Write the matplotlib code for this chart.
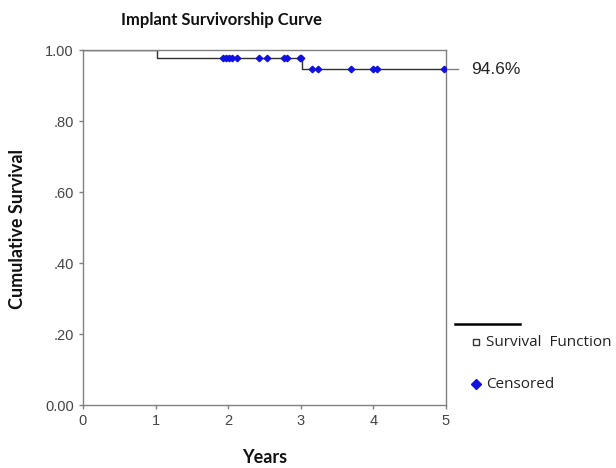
import matplotlib
matplotlib.use("Agg")
import matplotlib.pyplot as plt
from matplotlib.lines import Line2D
import numpy as np

# ── Data ──────────────────────────────────────────────────────────────────
step_times = [0.0, 1.02, 3.025, 5.0]
step_surv = [1.0, 0.978, 0.946, 0.946]

censored_upper = [1.93, 1.97, 2.01, 2.05, 2.12, 2.42, 2.54, 2.77, 2.81, 2.99, 3.01]
censored_lower = [3.16, 3.24, 3.70, 3.99, 4.05, 4.97]

x_ticks = [0, 1, 2, 3, 4, 5]
y_ticks = [0.0, 0.2, 0.4, 0.6, 0.8, 1.0]
y_tick_labels = ["0.00", ".20", ".40", ".60", ".80", "1.00"]

final_label = "94.6%"

plt.rcParams["font.family"] = ["Liberation Sans", "DejaVu Sans"]

fig = plt.figure(figsize=(6.16, 4.68), dpi=100)
ax = fig.add_axes([0.1347, 0.1346, 0.589, 0.7585])

frame_col = "#808080"
ax.step(step_times, step_surv, where="post", color="#303030", linewidth=1.0, zorder=2)

cens_x = censored_upper + censored_lower
cens_y = [step_surv[1]] * len(censored_upper) + [step_surv[2]] * len(censored_lower)
ax.plot(cens_x, cens_y, linestyle="none", marker="D", markersize=3.3,
        color="#1010e0", zorder=3)

# tail line out to the label
ax.plot([5.0, 5.17], [step_surv[-1], step_surv[-1]], color=frame_col,
        linewidth=1.0, clip_on=False)
ax.text(5.35, step_surv[-1], final_label, fontsize=12.5, va="center", ha="left",
        color="#222222")

ax.set_xlim(0, 5)
ax.set_ylim(0, 1)
ax.set_xticks(x_ticks)
ax.set_yticks(y_ticks)
ax.set_yticklabels(y_tick_labels)
for sp in ax.spines.values():
    sp.set_color(frame_col)
    sp.set_linewidth(1.0)
ax.tick_params(direction="out", length=3, width=1, colors=frame_col,
               labelcolor="#444444", labelsize=10.5)

fig.text(0.36, 0.957, "Implant Survivorship Curve", fontsize=12, fontweight="bold",
         family=["Lato", "DejaVu Sans"], ha="center", va="center", color="#111111")
fig.text(0.43, 0.022, "Years", fontsize=13, fontweight="bold",
         family=["Lato", "DejaVu Sans"], ha="center", va="center", color="#111111")
fig.text(0.029, 0.51, "Cumulative Survival", fontsize=13, fontweight="bold",
         family=["Lato", "DejaVu Sans"], ha="center", va="center", rotation=90,
         color="#111111")

# ── Legend ────────────────────────────────────────────────────────────────
fig.add_artist(Line2D([455 / 616, 520 / 616], [1 - 324 / 468, 1 - 324 / 468],
                      color="black", linewidth=1.8))
fig.add_artist(Line2D([476 / 616], [1 - 342 / 468], marker="s", markersize=5,
                      markerfacecolor="white", markeredgecolor="#333333",
                      linestyle="none"))
fig.text(486 / 616, 1 - 342 / 468, "Survival  Function", fontsize=11,
         family=["Open Sans", "DejaVu Sans"], va="center", ha="left", color="#222222")
fig.add_artist(Line2D([476 / 616], [1 - 384 / 468], marker="D", markersize=5,
                      color="#1010e0", linestyle="none"))
fig.text(486 / 616, 1 - 384 / 468, "Censored", fontsize=11,
         family=["Open Sans", "DejaVu Sans"], va="center", ha="left", color="#222222")

fig.savefig("out.png", dpi=100)
